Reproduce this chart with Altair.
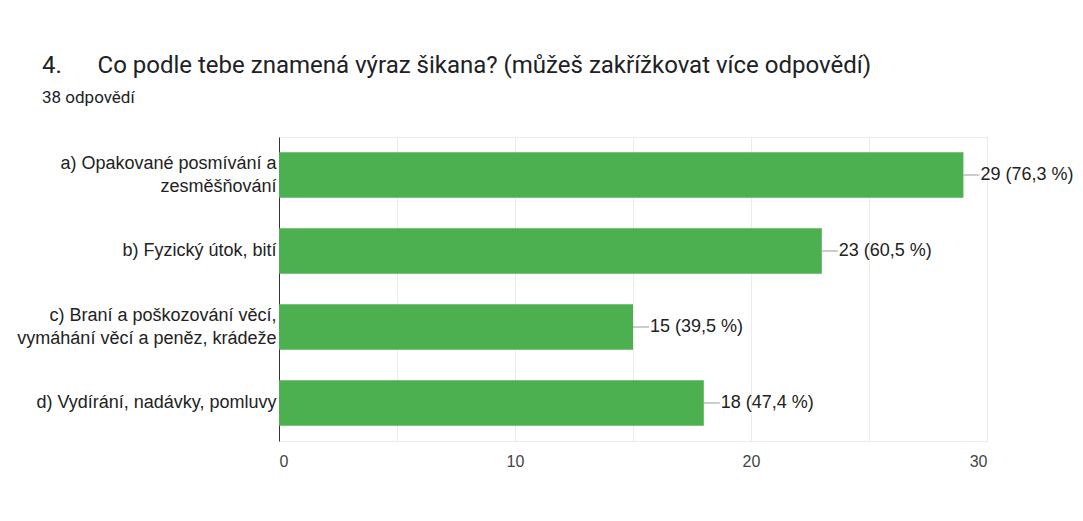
import altair as alt
import pandas as pd

categories = [
    "a) Opakované posmívání a|zesměšňování",
    "b) Fyzický útok, bití",
    "c) Braní a poškozování věcí,|vymáhání věcí a peněz, krádeže",
    "d) Vydírání, nadávky, pomluvy",
]
counts = [29, 23, 15, 18]
percents = ["76,3", "60,5", "39,5", "47,4"]
x_ticks = [0, 5, 10, 15, 20, 25, 30]

df = pd.DataFrame({
    "cat": categories,
    "count": counts,
    "label": [f"{c} ({p} %)" for c, p in zip(counts, percents)],
})

green = "#4caf50"

y_enc = alt.Y(
    "cat:N",
    sort=categories,
    title=None,
    scale=alt.Scale(paddingInner=0.4, paddingOuter=0.2),
    axis=alt.Axis(
        labelExpr="split(datum.label, '|')",
        labelFont="Liberation Sans",
        labelFontSize=18,
        labelColor="#222222",
        labelLineHeight=23,
        labelPadding=3,
        labelLimit=400,
        labelOffset={"condition": {"test": "indexof(datum.value, '|') >= 0", "value": -11.5}, "value": 0},
        ticks=False,
        domain=True,
        domainColor="#333333",
        domainWidth=1,
        grid=False,
    ),
)

x_enc = alt.X(
    "count:Q",
    title=None,
    scale=alt.Scale(domain=[0, 30], nice=False),
    axis=alt.Axis(
        values=x_ticks,
        labelExpr="datum.value % 10 == 0 ? datum.label : ''",
        labelFont="Liberation Sans",
        labelFontSize=16,
        labelColor="#444444",
        labelPadding=12,
        ticks=False,
        domain=False,
        grid=True,
        gridColor="#ebebeb",
        gridWidth=1,
    ),
)

bars = alt.Chart(df).mark_bar(color=green).encode(x=x_enc, y=y_enc)

leaders = alt.Chart(df).mark_rule(color="#999999", strokeWidth=1, x2Offset=16).encode(
    x="count:Q", x2="count:Q", y=alt.Y("cat:N", sort=categories)
)

texts = alt.Chart(df).mark_text(
    align="left", baseline="middle", dx=17, font="Liberation Sans", fontSize=18, color="#222222"
).encode(x="count:Q", y=alt.Y("cat:N", sort=categories), text="label:N")

chart = (
    alt.layer(bars, leaders, texts)
    .properties(
        width=708,
        height=304,
        autosize=alt.AutoSizeParams(type="none"),
        padding={"left": 271, "top": 129, "right": 88, "bottom": 72},
        background="white",
        title=alt.TitleParams(
            text="4.\u00a0\u00a0\u00a0\u00a0\u00a0 Co podle tebe znamená výraz šikana? (můžeš zakřížkovat více odpovědí)",
            subtitle="38 odpovědí",
            anchor="start",
            frame="group",
            font="Roboto",
            fontSize=24,
            fontWeight="normal",
            color="#202124",
            subtitleFont="Roboto",
            subtitleFontSize=17,
            subtitleColor="#202124",
            subtitlePadding=12,
            dx=-237,
            offset=31,
        ),
    )
    .configure_view(stroke="#ebebeb", strokeWidth=1)
)

chart.save("out.html", embed_options={"renderer": "svg", "actions": False})
